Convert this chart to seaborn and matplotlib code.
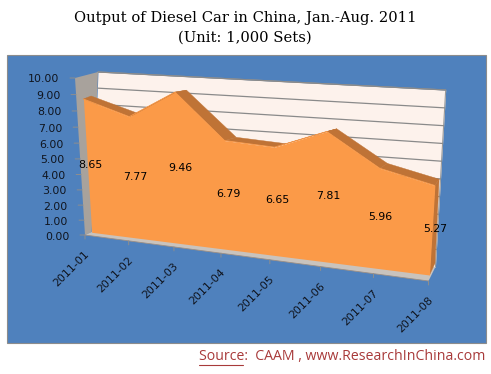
import numpy as np
import seaborn as sns
import matplotlib
matplotlib.use("Agg")
import matplotlib.pyplot as plt
from matplotlib.transforms import Transform

months = ["2011-01", "2011-02", "2011-03", "2011-04", "2011-05", "2011-06", "2011-07", "2011-08"]
output = [8.65, 7.77, 9.46, 6.79, 6.65, 7.81, 5.96, 5.27]
y_ticks = [0, 1, 2, 3, 4, 5, 6, 7, 8, 9, 10]

BLUE = "#4F81BD"
ORANGE = "#FB9A48"
DARK = "#BF7336"
WALL = "#FDF2EC"
SIDE = "#A8A29C"
FLOOR = "#C9C3BD"


class Plane(Transform):
	"""Perspective map of (month index, value) onto one plane of the fake 3D box"""
	input_dims = 2
	output_dims = 2

	def __init__(self, bl, br, tl, tr):
		super().__init__()
		src = [(0, 0), (7, 0), (0, 10), (7, 10)]
		A, b = [], []
		for (x, y), (u, v) in zip(src, [bl, br, tl, tr]):
			A.append([x, y, 1, 0, 0, 0, -u*x, -u*y])
			A.append([0, 0, 0, x, y, 1, -v*x, -v*y])
			b += [u, v]
		self.H = np.append(np.linalg.solve(A, b), 1).reshape(3, 3)

	def transform_non_affine(self, values):
		p = np.column_stack([values, np.ones(len(values))]) @ self.H.T
		return p[:, :2] / p[:, 2:]


front = Plane((91.7, 232.3), (429.5, 275), (82, 77), (440, 100))
back = Plane((98, 229), (435, 263.3), (90, 74.3), (443, 100))
wall = Plane((91.7, 232), (435.4, 267), (98, 72), (445.7, 90))
edge = Plane((85, 235), (428.5, 281), (75, 78), (442, 103))

sns.set_theme(style="white")
fig = plt.figure(figsize=(4.91, 3.74), dpi=100)
fig.patch.set_facecolor("white")
ax = fig.add_axes([0, 0, 1, 1])
ax.set_xlim(0, 491)
ax.set_ylim(374, 0)
ax.axis("off")

ax.add_patch(plt.Rectangle((7, 55), 479.5, 288, fc=BLUE, ec="#8C8C8C", lw=0.8, zorder=0))

idx = np.arange(len(months))
top = np.array(output)
data = ax.transData

# back wall, side wall and floor of the box
ax.fill_between([0, 7], 0, 10, color=WALL, lw=0, transform=wall + data, zorder=1)
ax.plot([0, 7, 7], [10, 10, 0], color="#9A9A9A", lw=0.8, transform=wall + data, zorder=1.1)
for v in y_ticks[1:]:
	ax.plot([0, 7], [v, v], color="#8A8A8A", lw=0.9, transform=wall + data, zorder=1.2)

side = np.vstack([edge.transform([(0, 0), (0, 10)]), wall.transform([(0, 10), (0, 0)])])
ax.fill(side[:, 0], side[:, 1], color=SIDE, lw=0, zorder=1.3)
floor = np.vstack([edge.transform([(0, 0), (7, 0)]), wall.transform([(7, 0), (0, 0)])])
ax.fill(floor[:, 0], floor[:, 1], color=FLOOR, lw=0, zorder=1.3)
ax.plot(floor[:2, 0], floor[:2, 1], color="#9C8F85", lw=0.6, zorder=1.4)

# area with its extruded top and end
f_pts = front.transform(np.column_stack([idx, top]))
b_pts = back.transform(np.column_stack([idx, top]))
for i in range(len(idx) - 1):
	quad = np.vstack([f_pts[i], f_pts[i+1], b_pts[i+1], b_pts[i]])
	ax.fill(quad[:, 0], quad[:, 1], color=DARK, lw=0.3, zorder=2)
end = np.vstack([front.transform([(7, 0)]), f_pts[-1], b_pts[-1], back.transform([(7, 0)])])
ax.fill(end[:, 0], end[:, 1], color=DARK, lw=0.3, zorder=2)
ax.fill_between(idx, 0, top, color=ORANGE, lw=0, transform=front + data, zorder=3)
sns.lineplot(x=idx, y=top, ax=ax, color=ORANGE, lw=0.6, errorbar=None, transform=front + data, zorder=3)

for i, v in zip(idx, output):
	ax.annotate("%.2f" % v, xy=(i, v / 2), xycoords=front + data, xytext=(3, 2), textcoords="offset pixels",
				fontsize=7.9, color="black", ha="center", va="center", zorder=4)

# axes
for v in y_ticks:
	ax.annotate("", xy=(0, v), xycoords=edge + data, xytext=(-5, 0), textcoords="offset pixels",
				arrowprops=dict(arrowstyle="-", color="#8E8E8E", lw=0.7, shrinkA=0, shrinkB=0))
	ax.annotate("%.2f" % v, xy=(0, v), xycoords=edge + data, xytext=(-15.5, -1.5), textcoords="offset pixels",
				fontsize=7.9, color="#10151F", ha="right", va="center")

for i, m in zip(idx, months):
	ax.annotate("", xy=(i, 0), xycoords=edge + data, xytext=(0, -4), textcoords="offset pixels",
				arrowprops=dict(arrowstyle="-", color="#8E8E8E", lw=0.7, shrinkA=0, shrinkB=0))
	ax.annotate(m, xy=(i, 0), xycoords=edge + data, xytext=(-1, -14), textcoords="offset pixels",
				fontsize=7.9, color="#10151F", ha="right", va="top", rotation=45, rotation_mode="anchor")

fig.text(245 / 491, 1 - 18 / 374, "Output of Diesel Car in China, Jan.-Aug. 2011", family="DejaVu Serif",
		 fontsize=10.6, color="black", ha="center", va="center")
fig.text(245 / 491, 1 - 38 / 374, "(Unit: 1,000 Sets)", family="DejaVu Serif",
		 fontsize=10.6, color="black", ha="center", va="center")

fig.text(199 / 491, 1 - 357 / 374, "Source:  CAAM , www.ResearchInChina.com", family="Open Sans",
		 fontsize=10.2, color="#A83A3A", ha="left", va="center")
ax.plot([199, 243], [365, 365], color="#A83A3A", lw=0.8)

fig.savefig("out.png", dpi=100)
